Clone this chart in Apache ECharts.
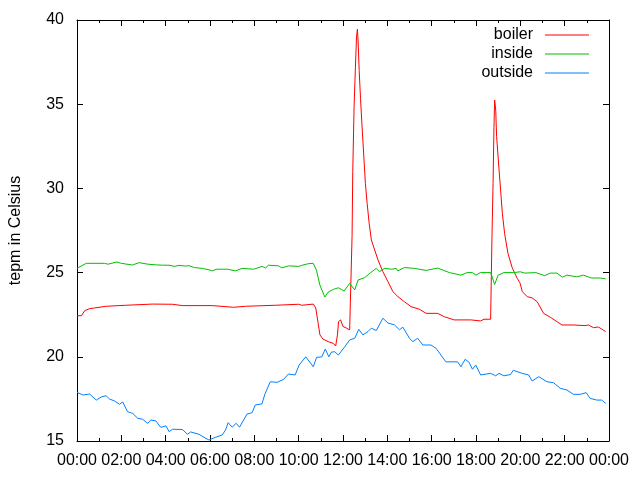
<!DOCTYPE html>
<html><head><meta charset="utf-8">
<script src="https://cdn.jsdelivr.net/npm/echarts@6/dist/echarts.min.js"></script>
<style>html,body{margin:0;padding:0;background:#fff}#c{width:640px;height:480px}</style>
</head><body><div id="c"></div>
<script>
// x tick labels (hours 0..24 every 2 h)
const xTickLabels = ['00:00','02:00','04:00','06:00','08:00','10:00','12:00','14:00','16:00','18:00','20:00','22:00','00:00'];
const seriesNames = ['boiler','inside','outside'];
// [hour of day, temperature °C]
const boiler = [[0,22.44],[0.2,22.44],[0.35,22.74],[0.57,22.86],[0.8,22.9],[1.3,23.0],[2.2,23.06],[3.4,23.13],[4.3,23.12],[4.75,23.04],[6.1,23.04],[7.07,22.94],[7.6,23.0],[8.94,23.06],[10.0,23.12],[10.14,23.06],[10.66,23.13],[10.77,22.9],[10.89,21.9],[10.96,21.3],[11.1,21.05],[11.33,20.9],[11.56,20.8],[11.67,20.64],[11.75,21.3],[11.8,22.08],[11.89,22.2],[12.0,21.8],[12.16,21.7],[12.3,21.6],[12.35,21.6],[12.41,27.2],[12.44,31.0],[12.5,34.85],[12.56,37.2],[12.61,39.0],[12.65,39.45],[12.68,38.8],[12.73,37.0],[12.79,35.35],[12.86,33.66],[12.93,32.1],[13.01,30.3],[13.09,29.1],[13.18,27.93],[13.28,26.94],[13.43,26.34],[13.58,25.75],[13.8,25.05],[14.03,24.46],[14.25,23.87],[14.48,23.57],[14.77,23.27],[15.07,22.98],[15.45,22.82],[15.75,22.58],[16.27,22.58],[16.57,22.38],[17.02,22.19],[17.77,22.19],[18.21,22.13],[18.36,22.23],[18.66,22.23],[18.69,22.3],[18.72,27.1],[18.77,30.3],[18.81,33.6],[18.84,35.25],[18.89,34.65],[18.93,33.07],[19.04,31.1],[19.11,29.9],[19.19,28.5],[19.29,27.33],[19.44,26.15],[19.64,25.26],[19.86,24.66],[19.98,24.4],[20.09,23.87],[20.31,23.57],[20.53,23.5],[20.76,23.27],[21.05,22.58],[21.35,22.35],[21.66,22.08],[21.88,21.89],[22.4,21.89],[22.92,21.85],[23.07,21.89],[23.3,21.73],[23.52,21.77],[23.67,21.65],[23.85,21.49]];
const inside = [[0,25.26],[0.42,25.55],[1.24,25.55],[1.4,25.5],[1.8,25.63],[2.0,25.55],[2.5,25.45],[2.8,25.59],[3.2,25.5],[3.55,25.46],[3.86,25.44],[4.15,25.44],[4.4,25.37],[4.6,25.43],[4.9,25.39],[5.05,25.41],[5.3,25.3],[5.65,25.25],[6.0,25.15],[6.1,25.1],[6.3,25.2],[6.55,25.2],[6.8,25.2],[7.15,25.1],[7.45,25.25],[7.97,25.2],[8.35,25.37],[8.5,25.27],[8.64,25.44],[9.1,25.4],[9.24,25.28],[9.54,25.4],[10.0,25.37],[10.14,25.43],[10.44,25.53],[10.66,25.55],[10.8,25.15],[10.96,24.25],[11.18,23.55],[11.34,23.85],[11.56,24.0],[11.79,24.1],[11.93,24.0],[12.05,23.9],[12.3,24.36],[12.38,24.38],[12.53,23.97],[12.68,24.56],[12.98,24.7],[13.2,24.95],[13.5,25.25],[13.65,25.05],[13.87,25.25],[14.2,25.2],[14.4,25.25],[14.47,25.1],[14.77,25.3],[15.22,25.25],[15.75,25.13],[16.27,25.27],[16.8,25.0],[17.32,24.85],[17.6,25.0],[17.84,25.0],[18.0,24.85],[18.2,25.0],[18.66,25.0],[18.74,24.7],[18.84,24.3],[19.0,24.85],[19.26,25.0],[19.7,25.0],[20.0,25.05],[20.2,24.97],[20.7,25.0],[21.1,24.82],[21.35,24.97],[21.65,24.97],[21.9,24.73],[22.1,24.85],[22.55,24.75],[22.85,24.85],[23.2,24.68],[23.6,24.68],[23.85,24.63]];
const outside = [[0,17.89],[0.27,17.73],[0.57,17.79],[0.72,17.61],[0.87,17.43],[1.09,17.61],[1.31,17.69],[1.47,17.49],[1.69,17.38],[1.92,17.18],[2.06,17.32],[2.28,16.74],[2.51,16.64],[2.74,16.35],[2.96,16.29],[3.19,16.05],[3.33,16.25],[3.56,16.19],[3.78,15.81],[4.01,15.9],[4.16,15.55],[4.31,15.7],[4.76,15.68],[4.98,15.4],[5.13,15.54],[5.5,15.4],[5.73,15.22],[5.95,15.06],[6.25,15.22],[6.55,15.36],[6.7,15.65],[6.82,16.09],[7.0,15.82],[7.18,16.05],[7.33,15.82],[7.67,16.6],[7.9,16.68],[8.04,17.14],[8.34,17.2],[8.49,17.83],[8.72,18.52],[9.02,18.48],[9.32,18.66],[9.54,18.98],[9.84,18.92],[10.02,19.51],[10.32,20.0],[10.66,19.41],[10.81,19.97],[11.04,19.99],[11.2,20.46],[11.36,20.0],[11.48,20.28],[11.63,20.3],[11.79,20.1],[12.08,20.6],[12.3,21.0],[12.53,21.1],[12.71,21.63],[12.9,21.3],[13.13,21.5],[13.28,21.7],[13.5,21.56],[13.8,22.29],[14.03,22.0],[14.32,21.9],[14.55,21.6],[14.7,21.76],[15.0,21.1],[15.15,20.9],[15.37,21.1],[15.6,20.7],[15.97,20.7],[16.2,20.5],[16.42,20.1],[16.64,19.7],[17.17,19.7],[17.32,19.41],[17.51,19.85],[17.69,19.67],[17.84,19.26],[17.99,19.51],[18.21,18.92],[18.66,19.02],[18.89,18.87],[19.04,19.02],[19.26,18.87],[19.56,18.95],[19.68,19.2],[20.08,19.02],[20.38,18.92],[20.53,18.56],[20.83,18.82],[21.2,18.52],[21.5,18.46],[21.8,18.13],[22.1,18.03],[22.4,17.77],[22.7,17.77],[22.97,17.87],[23.15,17.53],[23.45,17.43],[23.67,17.43],[23.85,17.23]];
const colors = ['#ff0000','#00c000','#0080ff'];

const FONT = 'Liberation Sans';
const FS = 16;
const black = '#000';
function xAxisDef(pos, labels) {
  return {
    type:'value', min:0, max:24, interval:2, position:pos,
    axisLine:{show:true, onZero:false, lineStyle:{color:black, width:1}},
    axisTick:{show:true, inside:true, length:6, lineStyle:{color:black}},
    minorTick:{show:true, splitNumber:2, length:3, lineStyle:{color:black}},
    splitLine:{show:false}, minorSplitLine:{show:false},
    axisLabel:{show:labels, color:black, fontSize:FS, fontFamily:FONT, margin:12,
      formatter:function(v){ return xTickLabels[Math.round(v/2)]; }}
  };
}
function yAxisDef(pos, labels) {
  const a = {
    type:'value', min:15, max:40, interval:5, position:pos,
    axisLine:{show:true, onZero:false, lineStyle:{color:black, width:1}},
    axisTick:{show:true, inside:true, length:6, lineStyle:{color:black}},
    splitLine:{show:false},
    axisLabel:{show:labels, color:black, fontSize:FS, fontFamily:FONT, margin:13}
  };
  if (labels) {
    a.name = 'tepm in Celsius';
    a.nameLocation = 'middle';
    a.nameGap = 53;
    a.nameTextStyle = {color:black, fontSize:FS, fontFamily:FONT};
  }
  return a;
}
const chart = echarts.init(document.getElementById('c'));
chart.setOption({
  animation:false,
  backgroundColor:'#fff',
  textStyle:{fontFamily:FONT},
  grid:{left:74, right:31, top:20, bottom:39, containLabel:false},
  legend:{
    data:seriesNames, orient:'vertical', align:'right', right:51, top:27, padding:0,
    icon:'rect', itemWidth:44, itemHeight:1, itemGap:3,
    itemStyle:{borderWidth:0},
    textStyle:{color:black, fontSize:FS, fontFamily:FONT, padding:[0,7,0,0]}
  },
  xAxis:[xAxisDef('bottom', true), xAxisDef('top', false)],
  yAxis:[yAxisDef('left', true), yAxisDef('right', false)],
  series:[boiler, inside, outside].map(function(d, i){
    return {
      name:seriesNames[i], type:'line', data:d, xAxisIndex:0, yAxisIndex:0,
      symbol:'none', showSymbol:false,
      lineStyle:{color:colors[i], width:1}, itemStyle:{color:colors[i]}
    };
  })
});
</script></body></html>
